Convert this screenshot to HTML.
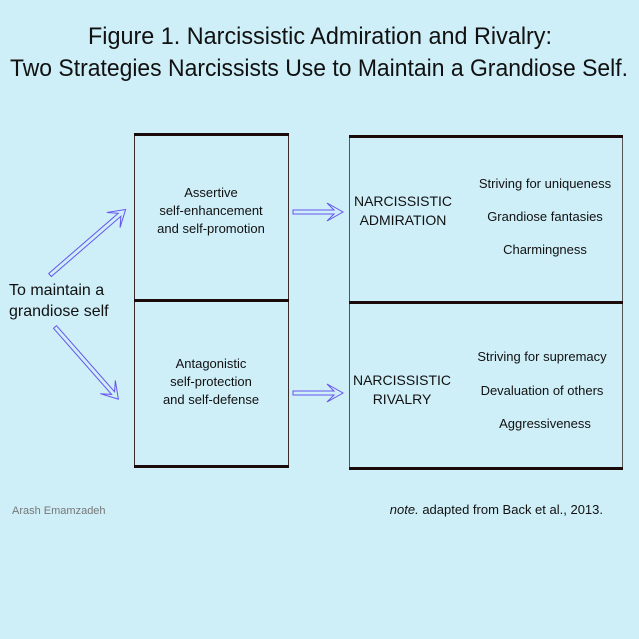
<!DOCTYPE html>
<html><head><style>
html,body{margin:0;padding:0;background:#ceeef8;}
svg{display:block;font-family:"Liberation Sans",sans-serif;}
</style></head><body>
<svg width="639" height="639" viewBox="0 0 639 639" xmlns="http://www.w3.org/2000/svg">
<rect width="639" height="639" fill="#ceeef8"/>
<text x="320" y="44" font-size="24" text-anchor="middle" textLength="464" lengthAdjust="spacingAndGlyphs" fill="#111">Figure 1. Narcissistic Admiration and Rivalry:</text>
<text x="319" y="76" font-size="24" text-anchor="middle" textLength="618" lengthAdjust="spacingAndGlyphs" fill="#111">Two Strategies Narcissists Use to Maintain a Grandiose Self.</text>

<g stroke="#3a2a2a">
<line x1="134.5" y1="134" x2="134.5" y2="467" stroke-width="1"/>
<line x1="288.5" y1="134" x2="288.5" y2="467" stroke-width="1"/>
<line x1="134" y1="134.5" x2="289" y2="134.5" stroke-width="3" stroke="#1a0a0a"/>
<line x1="134" y1="300.5" x2="289" y2="300.5" stroke-width="3" stroke="#1a0a0a"/>
<line x1="134" y1="466.5" x2="289" y2="466.5" stroke-width="3" stroke="#1a0a0a"/>
<line x1="349.5" y1="136" x2="349.5" y2="469" stroke-width="1" stroke="#555"/>
<line x1="622.5" y1="136" x2="622.5" y2="469" stroke-width="1" stroke="#555"/>
<line x1="349" y1="136.5" x2="623" y2="136.5" stroke-width="3" stroke="#1a0a0a"/>
<line x1="349" y1="302.5" x2="623" y2="302.5" stroke-width="3" stroke="#1a0a0a"/>
<line x1="349" y1="468.5" x2="623" y2="468.5" stroke-width="3" stroke="#1a0a0a"/>
</g>

<g fill="#ceeef8" stroke="#6655ee" stroke-width="1">
<polygon points="293,210 334,210 327,203 343,212 327,221 334,214 293,214"/>
<polygon points="293,391 334,391 327,384 343,393 327,402 334,395 293,395"/>
<g transform="translate(50,275) rotate(-40.9)">
<polygon points="0,-2 92,-2 84,-10 100,0 84,10 92,2 0,2"/>
</g>
<g transform="translate(55,327) rotate(48.7)">
<polygon points="0,-2 88,-2 80,-10 96,0 80,10 88,2 0,2"/>
</g>
</g>

<g font-size="13" fill="#111" text-anchor="middle">
<text x="211" y="197">Assertive</text>
<text x="211" y="215">self-enhancement</text>
<text x="211" y="233">and self-promotion</text>
<text x="211" y="368">Antagonistic</text>
<text x="211" y="386">self-protection</text>
<text x="211" y="404">and self-defense</text>
<text x="545" y="188">Striving for uniqueness</text>
<text x="545" y="221">Grandiose fantasies</text>
<text x="545" y="254">Charmingness</text>
<text x="542" y="361">Striving for supremacy</text>
<text x="542" y="395">Devaluation of others</text>
<text x="545" y="428">Aggressiveness</text>
</g>
<g font-size="14" fill="#111" text-anchor="middle">
<text x="403" y="206">NARCISSISTIC</text>
<text x="403" y="225">ADMIRATION</text>
<text x="402" y="385">NARCISSISTIC</text>
<text x="402" y="404">RIVALRY</text>
</g>
<text x="9" y="295" font-size="16" fill="#111">To maintain a</text>
<text x="9" y="316" font-size="16" fill="#111">grandiose self</text>
<text x="12" y="514" font-size="11" fill="#777">Arash Emamzadeh</text>
<text x="603" y="514" font-size="13" fill="#111" text-anchor="end"><tspan font-style="italic">note.</tspan> adapted from Back et al., 2013.</text>
</svg>
</body></html>
